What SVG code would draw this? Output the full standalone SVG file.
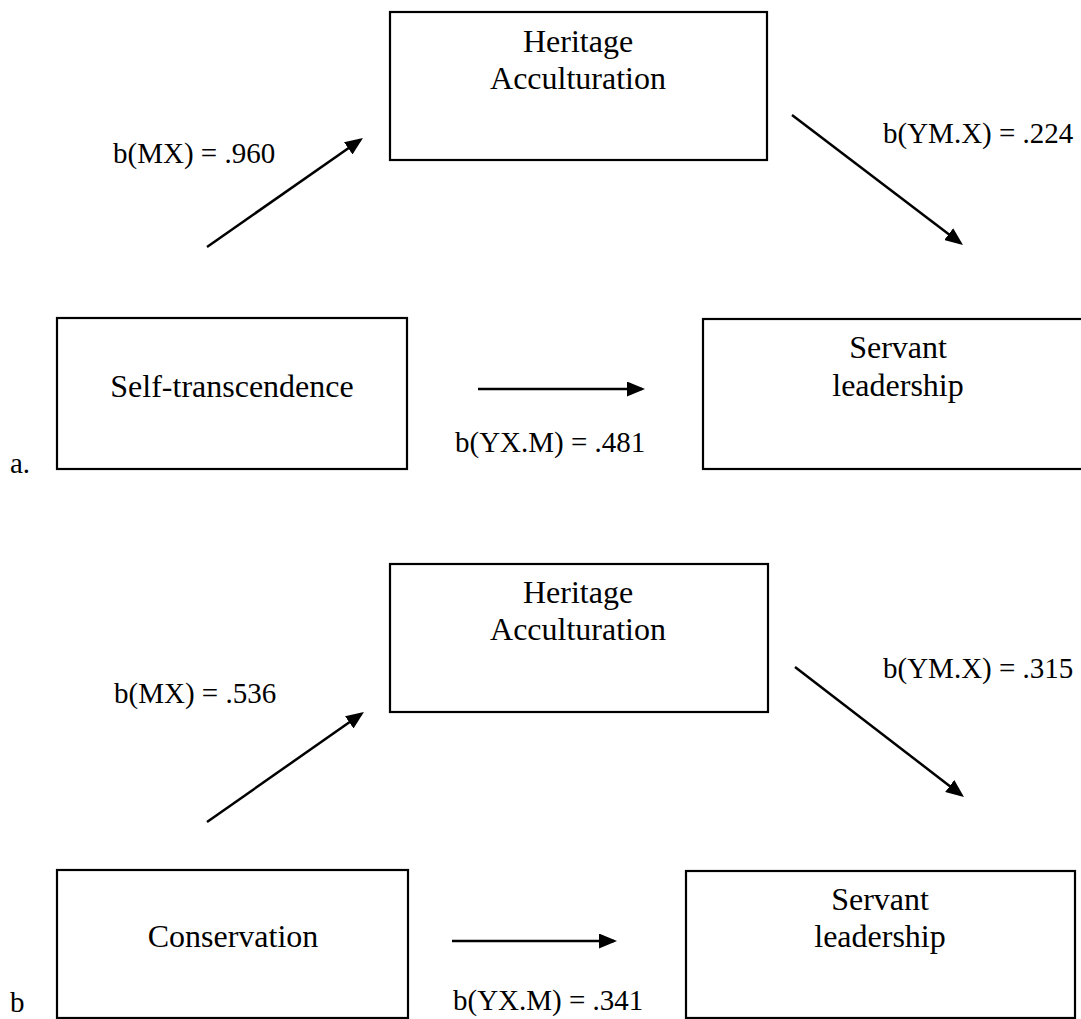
<svg xmlns="http://www.w3.org/2000/svg" width="1081" height="1019" viewBox="0 0 1081 1019">
  <style>
    .box { fill: #ffffff; stroke: #000000; stroke-width: 2.2; }
    .node-text { font-family: "Liberation Serif", "Times New Roman", serif; font-size: 32px; fill: #000000; text-anchor: middle; }
    .coef { font-family: "Liberation Serif", "Times New Roman", serif; font-size: 29px; fill: #000000; }
    .edge { stroke: #000000; stroke-width: 2.5; fill: none; marker-end: url(#head); }
  </style>
  <defs>
    <marker id="head" viewBox="0 0 18 15" refX="15" refY="7.5" markerWidth="18" markerHeight="15" markerUnits="userSpaceOnUse" orient="auto">
      <path d="M0,0 L18,7.5 L0,15 Z" fill="#000000"/>
    </marker>
  </defs>
  <rect width="1081" height="1019" fill="#ffffff"/>

  <!-- Panel a -->
  <g id="a-heritage">
    <rect class="box" x="390" y="12" width="377" height="148"/>
    <text class="node-text" x="578" y="52">Heritage</text>
    <text class="node-text" x="578" y="89">Acculturation</text>
  </g>
  <g id="a-self-transcendence">
    <rect class="box" x="57" y="318" width="350" height="151"/>
    <text class="node-text" x="232" y="397">Self-transcendence</text>
  </g>
  <g id="a-servant">
    <rect class="box" x="703" y="319" width="389" height="150"/>
    <text class="node-text" x="898" y="358">Servant</text>
    <text class="node-text" x="898" y="396">leadership</text>
  </g>
  <g id="a-labels">
    <text class="coef" x="113" y="163">b(MX) = .960</text>
    <text class="coef" x="883" y="143">b(YM.X) = .224</text>
    <text class="coef" x="455" y="452">b(YX.M) = .481</text>
    <text class="coef" x="10" y="473">a.</text>
  </g>

  <!-- Panel b -->
  <g id="b-heritage">
    <rect class="box" x="390" y="564" width="378" height="148"/>
    <text class="node-text" x="578" y="603">Heritage</text>
    <text class="node-text" x="578" y="640">Acculturation</text>
  </g>
  <g id="b-conservation">
    <rect class="box" x="57" y="870" width="351" height="148"/>
    <text class="node-text" x="233" y="947">Conservation</text>
  </g>
  <g id="b-servant">
    <rect class="box" x="686" y="871" width="389" height="147"/>
    <text class="node-text" x="880" y="910">Servant</text>
    <text class="node-text" x="880" y="947">leadership</text>
  </g>
  <g id="b-labels">
    <text class="coef" x="114" y="703">b(MX) = .536</text>
    <text class="coef" x="883" y="678">b(YM.X) = .315</text>
    <text class="coef" x="453" y="1010">b(YX.M) = .341</text>
    <text class="coef" x="10" y="1012">b</text>
  </g>

  <!-- Connectors: each line stops 3px short of its arrow tip -->
  <g id="connectors">
    <line class="edge" x1="207" y1="247" x2="360.5" y2="139.7"/>
    <line class="edge" x1="792" y1="115" x2="960.6" y2="243.2"/>
    <line class="edge" x1="478" y1="389" x2="642" y2="389"/>
    <line class="edge" x1="207" y1="822" x2="361.5" y2="713.7"/>
    <line class="edge" x1="795" y1="667" x2="961.6" y2="795.2"/>
    <line class="edge" x1="452" y1="941" x2="614" y2="941"/>
  </g>
</svg>
